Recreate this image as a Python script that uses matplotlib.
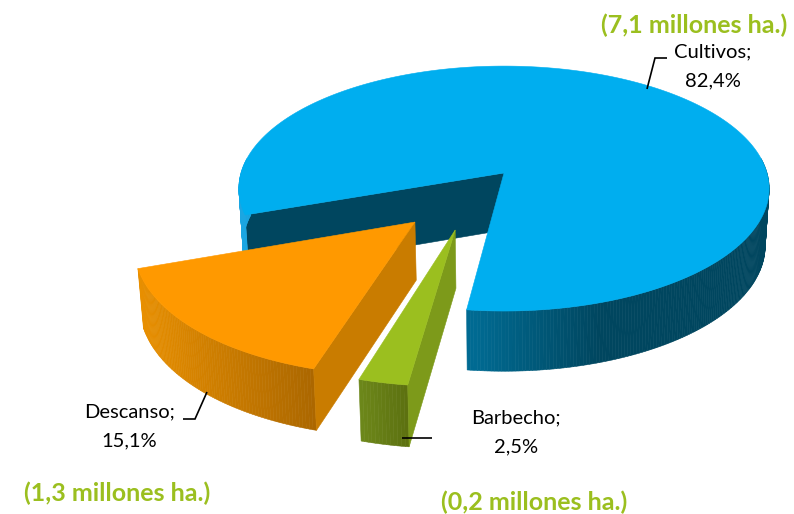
import numpy as np
import matplotlib
matplotlib.use("Agg")
import matplotlib.pyplot as plt
from matplotlib.colors import to_rgb
from matplotlib.patches import Polygon

categories = ["Cultivos", "Barbecho", "Descanso"]
shares = [82.4, 2.5, 15.1]
share_labels = ["82,4%", "2,5%", "15,1%"]
hectares = ["(7,1 millones ha.)", "(0,2 millones ha.)", "(1,3 millones ha.)"]

START = 250.5
CX, AY, RX, RY, K = 504, 173, 263, 120.5, 0.127
TOP = {"Cultivos": "#00aeef", "Barbecho": "#9bbf1f", "Descanso": "#ff9900"}
CUT = {"Cultivos": "#00465f", "Barbecho": "#7d9a1a", "Descanso": "#c97c00"}
WALL = {"Cultivos": ("#006a92", "#00465f"), "Barbecho": ("#6d881a", "#5c7010"),
        "Descanso": ("#e88f00", "#ab6700")}
EXPLODE = {"Cultivos": (0, 0), "Barbecho": (-0.175, 0.446), "Descanso": (-0.322, 0.387)}

fig = plt.figure(figsize=(7.94, 5.14), dpi=100)
ax = fig.add_axes([0, 0, 1, 1])
ax.set_xlim(0, 794)
ax.set_ylim(514, 0)
ax.axis("off")


def project(theta, radius, off):
    t = np.radians(theta)
    u = radius * np.sin(t) + off[0]
    v = -radius * np.cos(t) + off[1]
    s = 1 / (1 - K * v)
    return np.column_stack([CX + RX * u * s, AY + RY * v * s]), s


def drop(pts, s):
    out = pts.copy()
    out[:, 0] = CX + (pts[:, 0] - CX) * 0.985
    out[:, 1] = pts[:, 1] + 57 * s ** 0.4
    return out


def fill(pts, color, z):
    ax.add_patch(Polygon(pts, closed=True, fc=color, ec=color, lw=0.4, zorder=z))


def mix(c1, c2, f):
    a, b = np.array(to_rgb(c1)), np.array(to_rgb(c2))
    return tuple(a + (b - a) * np.clip(f, 0, 1))


def draw_wall(a0, a1, off, c0, c1, x0, x1, z):
    th = np.linspace(a0, a1, int(max(2, (a1 - a0) * 1.5)) + 1)
    rim, s = project(th, 1, off)
    low = drop(rim, s)
    for i in range(len(th) - 1):
        mid = (rim[i, 0] + rim[i + 1, 0]) / 2
        col = mix(c0, c1, (mid - x0) / (x1 - x0))
        fill([rim[i], rim[i + 1], low[i + 1], low[i]], col, z)


spans = {}
angle = START
for name, share in zip(categories, shares):
    spans[name] = (angle, angle + share * 3.6)
    angle += share * 3.6

order = ["Cultivos", "Barbecho", "Descanso"]
for z, name in enumerate(order):
    a0, a1 = spans[name]
    off = EXPLODE[name]
    base = 10 * (z + 1)
    th = np.linspace(a0, a1, 300)
    rim, s = project(th, 1, off)
    apex, sa = project(np.array([0.0]), 0, off)

    if name == "Cultivos":
        e = a1 - 360
        # cut face on the open side of the wedge
        edge, se = project(np.array([a0]), 1, off)
        fill(np.vstack([apex, edge, drop(edge, se), drop(apex, sa)]), CUT[name], base)
        draw_wall(a0, 277, off, "#1ba6e2", "#1ba6e2", 0, 1, base + 1)
        draw_wall(83, e, off, WALL[name][1], WALL[name][0], 600, 475, base + 1)
    else:
        tail = a0 if name == "Barbecho" else a0
        edge, se = project(np.array([tail]), 1, off)
        draw_wall(a0, a1, off, WALL[name][1], WALL[name][0],
                  rim[:, 0].min() * 0 + rim[0, 0], rim[-1, 0], base + 1)
        fill(np.vstack([apex, edge, drop(edge, se), drop(apex, sa)]), CUT[name], base + 2)
    fill(np.vstack([apex, rim]), TOP[name], base + 3)

TXT = dict(family="Lato", color="black", ha="center", va="center", fontsize=14.5, zorder=60)
GRN = dict(family="Lato", color="#9bbf1f", ha="center", va="center", fontsize=18,
           fontweight="bold", zorder=60)

ax.text(713, 52, categories[0] + ";", **TXT)
ax.text(713, 81, share_labels[0], **TXT)
ax.text(129, 412, categories[2] + ";", **TXT)
ax.text(129, 441, share_labels[2], **TXT)
ax.text(516, 418, categories[1] + ";", **TXT)
ax.text(516, 447, share_labels[1], **TXT)

ax.text(694, 25, hectares[0], **GRN)
ax.text(534, 502, hectares[1], **GRN)
ax.text(117, 493, hectares[2], **GRN)

LINE = dict(color="black", lw=1.2, zorder=55, solid_capstyle="butt", solid_joinstyle="miter")
ax.plot([647, 655, 667], [89, 58, 58], **LINE)
ax.plot([207, 195, 183], [392, 419, 419], **LINE)
ax.plot([402, 432], [438, 438], **LINE)

fig.savefig("out.png", dpi=100)
